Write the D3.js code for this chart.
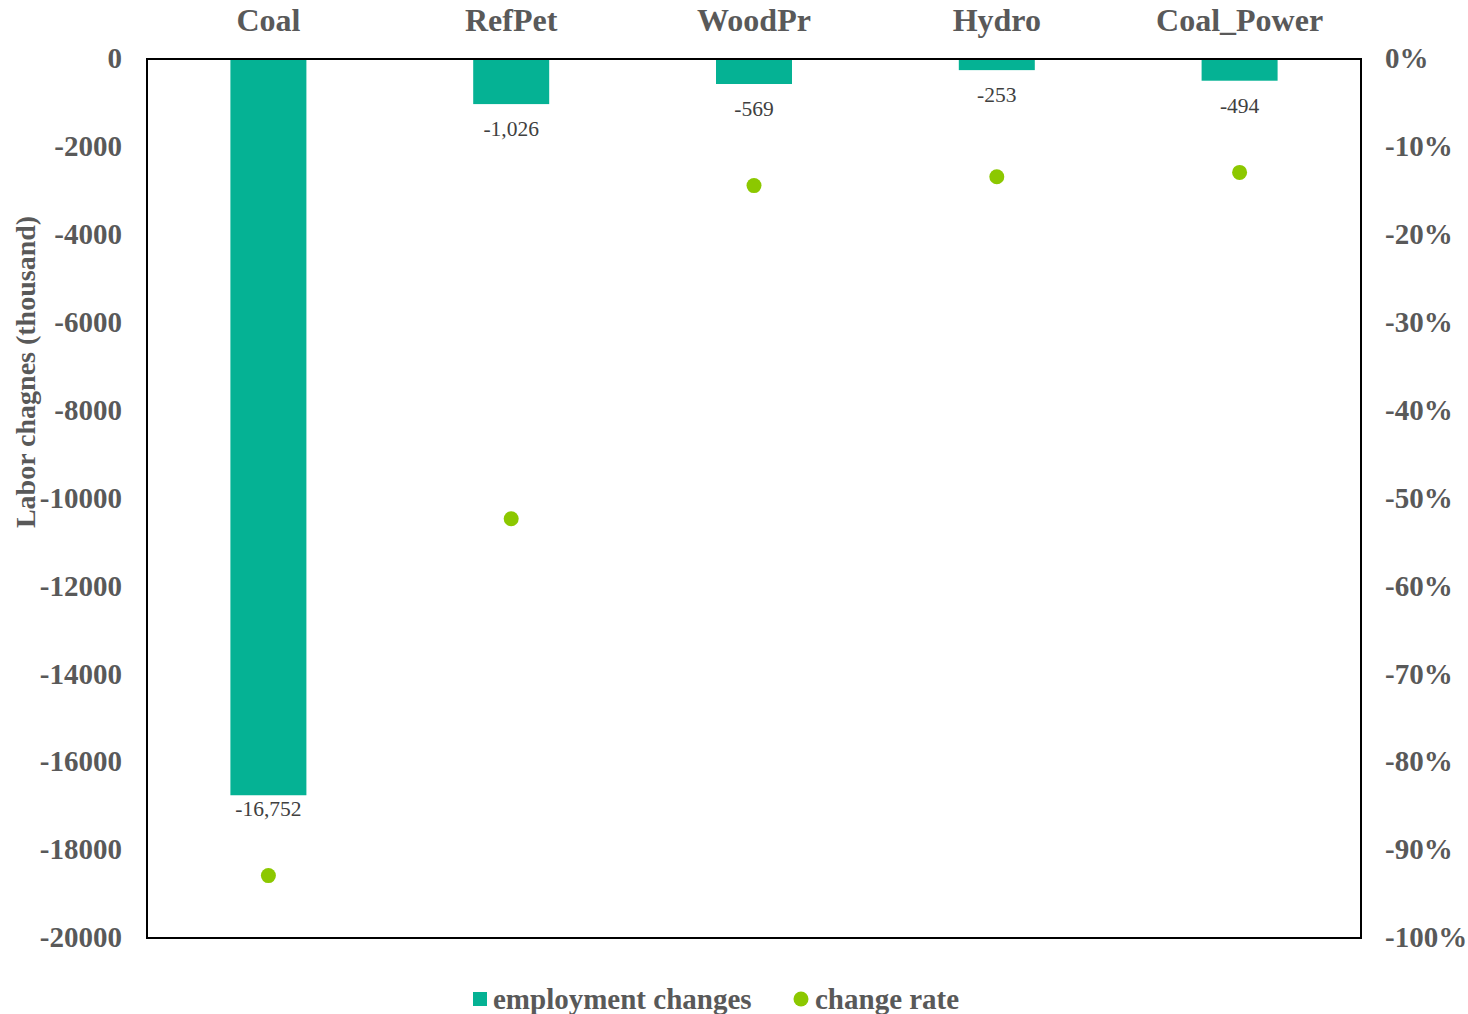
<!DOCTYPE html>
<html>
<head>
<meta charset="utf-8">
<script src="https://cdn.jsdelivr.net/npm/d3@7"></script>
<style>
  html, body { margin: 0; padding: 0; background: #fff; }
  svg { display: block; }
  text { font-family: "Liberation Serif", "Times New Roman", serif; }
</style>
</head>
<body>
<svg id="chart" width="1468" height="1014"></svg>
<script>
// Sectors and their employment changes (thousand) and relative change rate
const categories = ["Coal", "RefPet", "WoodPr", "Hydro", "Coal_Power"];
const employmentChanges = [-16752, -1026, -569, -253, -494];
const changeRate = [-0.929, -0.523, -0.144, -0.134, -0.129];
const leftTicks = [0, -2000, -4000, -6000, -8000, -10000, -12000, -14000, -16000, -18000, -20000];
const rightTicks = [0, -0.1, -0.2, -0.3, -0.4, -0.5, -0.6, -0.7, -0.8, -0.9, -1.0];

const barColor = "#05b294";
const dotColor = "#8cc800";
const axisGray = "#595959";
const serif = "Liberation Serif, Times New Roman, serif";

const svg = d3.select("#chart");
const plot = { left: 147, right: 1361, top: 59, bottom: 938 };

const x = d3.scaleBand()
  .domain(categories)
  .range([plot.left, plot.right])
  .paddingInner(0)
  .paddingOuter(0);

const y = d3.scaleLinear().domain([0, -20000]).range([plot.top, plot.bottom]);
const yRate = d3.scaleLinear().domain([0, -1]).range([plot.top, plot.bottom]);

const barWidth = x.bandwidth() * 0.313;

// Bars
svg.append("g").selectAll("rect")
  .data(categories)
  .join("rect")
  .attr("x", (d) => x(d) + x.bandwidth() / 2 - barWidth / 2)
  .attr("y", y(0))
  .attr("width", barWidth)
  .attr("height", (d, i) => y(employmentChanges[i]) - y(0))
  .attr("fill", barColor);

// Value labels under each bar
const fmt = d3.format(",");
svg.append("g").selectAll("text")
  .data(categories)
  .join("text")
  .attr("x", (d) => x(d) + x.bandwidth() / 2)
  .attr("y", (d, i) => y(employmentChanges[i]) + (i === 0 ? 21 : 32))
  .attr("text-anchor", "middle")
  .attr("font-size", 21.5)
  .attr("fill", "#404040")
  .text((d, i) => fmt(employmentChanges[i]).replace("−", "-"));

// Change-rate dots
svg.append("g").selectAll("circle")
  .data(categories)
  .join("circle")
  .attr("cx", (d) => x(d) + x.bandwidth() / 2)
  .attr("cy", (d, i) => yRate(changeRate[i]))
  .attr("r", 7.5)
  .attr("fill", dotColor);

// Plot frame
svg.append("rect")
  .attr("x", plot.left)
  .attr("y", plot.top)
  .attr("width", plot.right - plot.left)
  .attr("height", plot.bottom - plot.top)
  .attr("fill", "none")
  .attr("stroke", "#000")
  .attr("stroke-width", 2);

// Left axis labels
const leftAxis = d3.axisLeft(y).tickValues(leftTicks).tickSize(0).tickPadding(25)
  .tickFormat((d) => String(d));
const gl = svg.append("g").attr("transform", `translate(${plot.left},0)`).call(leftAxis);
gl.select(".domain").remove();
gl.selectAll("text")
  .attr("font-family", serif)
  .attr("font-size", 29).attr("font-weight", "bold").attr("fill", axisGray)
  .attr("dy", "0.3em");

// Right axis labels
const rightAxis = d3.axisRight(yRate).tickValues(rightTicks).tickSize(0).tickPadding(24)
  .tickFormat((d) => d3.format(".0%")(d).replace("−", "-"));
const gr = svg.append("g").attr("transform", `translate(${plot.right},0)`).call(rightAxis);
gr.select(".domain").remove();
gr.selectAll("text")
  .attr("font-family", serif)
  .attr("font-size", 29).attr("font-weight", "bold").attr("fill", axisGray)
  .attr("dy", "0.3em");

// Category labels across the top
const topAxis = d3.axisTop(x).tickSize(0).tickPadding(28);
const gt = svg.append("g").attr("transform", `translate(0,${plot.top})`).call(topAxis);
gt.select(".domain").remove();
gt.selectAll("text")
  .attr("font-family", serif)
  .attr("font-size", 32).attr("font-weight", "bold").attr("fill", axisGray)
  .attr("dy", "0");

// Y axis title
svg.append("text")
  .attr("transform", "translate(35,372) rotate(-90)")
  .attr("text-anchor", "middle")
  .attr("font-size", 28)
  .attr("font-weight", "bold")
  .attr("fill", axisGray)
  .text("Labor chagnes (thousand)");

// Legend
const legend = svg.append("g");
legend.append("rect").attr("x", 473).attr("y", 992).attr("width", 14).attr("height", 14).attr("fill", barColor);
legend.append("text").attr("x", 493).attr("y", 1009)
  .attr("font-size", 29).attr("font-weight", "bold").attr("fill", axisGray)
  .text("employment changes");
legend.append("circle").attr("cx", 801).attr("cy", 999).attr("r", 7.5).attr("fill", dotColor);
legend.append("text").attr("x", 815).attr("y", 1009)
  .attr("font-size", 29).attr("font-weight", "bold").attr("fill", axisGray)
  .text("change rate");
</script>
</body>
</html>
